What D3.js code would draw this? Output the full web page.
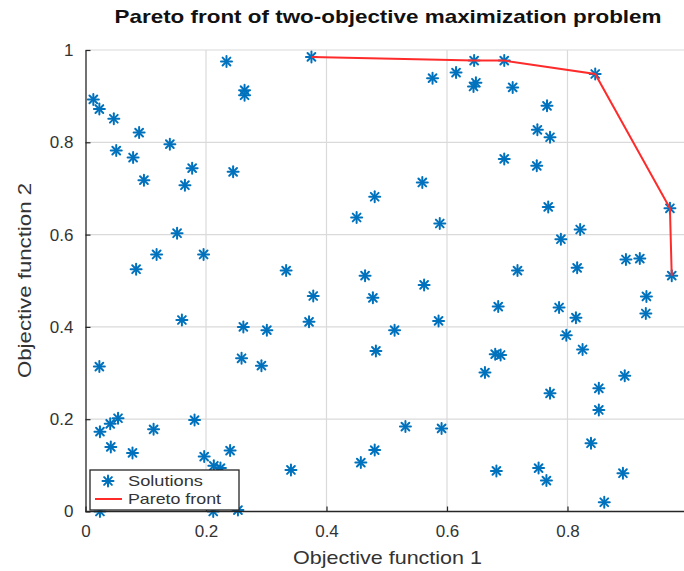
<!DOCTYPE html>
<html>
<head>
<meta charset="utf-8">
<script src="https://cdn.jsdelivr.net/npm/d3@7"></script>
<style>
  html, body { margin: 0; padding: 0; background: #fff; }
  svg { display: block; font-family: "Liberation Sans", Arial, Helvetica, sans-serif; }
</style>
</head>
<body>
<svg id="chart" width="684" height="571"></svg>
<script>
// Objective values of every candidate solution
const solutionsX = [
  0.234, 0.264, 0.264, 0.013, 0.023, 0.047, 0.089, 0.140, 0.051, 0.079,
  0.177, 0.245, 0.097, 0.165, 0.375, 0.645, 0.576, 0.615, 0.644, 0.648,
  0.559, 0.480, 0.695, 0.846, 0.970, 0.709, 0.766, 0.750, 0.771, 0.695,
  0.749, 0.768, 0.152, 0.118, 0.196, 0.084, 0.160, 0.262, 0.301, 0.259,
  0.292, 0.023, 0.333, 0.450, 0.588, 0.464, 0.562, 0.378, 0.477, 0.371,
  0.586, 0.513, 0.482, 0.821, 0.789, 0.897, 0.920, 0.973, 0.717, 0.816,
  0.931, 0.930, 0.685, 0.786, 0.814, 0.798, 0.825, 0.680, 0.689, 0.663,
  0.771, 0.895, 0.852, 0.852, 0.839, 0.682, 0.752, 0.765, 0.892, 0.861,
  0.054, 0.041, 0.024, 0.113, 0.181, 0.042, 0.078, 0.197, 0.240, 0.213,
  0.224, 0.024, 0.212, 0.253, 0.341, 0.457, 0.480, 0.531, 0.591
];
const solutionsY = [
  0.975, 0.913, 0.902, 0.893, 0.872, 0.851, 0.821, 0.796, 0.782, 0.767,
  0.744, 0.736, 0.718, 0.707, 0.985, 0.977, 0.939, 0.951, 0.921, 0.929,
  0.713, 0.682, 0.977, 0.948, 0.657, 0.919, 0.879, 0.827, 0.811, 0.764,
  0.749, 0.660, 0.603, 0.557, 0.557, 0.525, 0.415, 0.400, 0.393, 0.332,
  0.316, 0.314, 0.522, 0.637, 0.624, 0.511, 0.491, 0.467, 0.463, 0.411,
  0.413, 0.393, 0.348, 0.611, 0.590, 0.546, 0.548, 0.511, 0.522, 0.528,
  0.466, 0.429, 0.444, 0.442, 0.420, 0.382, 0.351, 0.341, 0.339, 0.301,
  0.256, 0.294, 0.267, 0.220, 0.148, 0.088, 0.094, 0.067, 0.083, 0.020,
  0.202, 0.190, 0.173, 0.178, 0.198, 0.140, 0.127, 0.119, 0.132, 0.099,
  0.094, 0.000, 0.000, 0.003, 0.090, 0.106, 0.133, 0.184, 0.180
];

// Non-dominated solutions, ordered along objective 1
const paretoX = [0.375, 0.645, 0.695, 0.846, 0.970, 0.973];
const paretoY = [0.985, 0.977, 0.977, 0.948, 0.657, 0.511];

const xTicks = [0, 0.2, 0.4, 0.6, 0.8];
const yTicks = [0, 0.2, 0.4, 0.6, 0.8, 1];
const xTickLabels = ["0", "0.2", "0.4", "0.6", "0.8"];
const yTickLabels = ["0", "0.2", "0.4", "0.6", "0.8", "1"];

const titleText = "Pareto front of two-objective maximization problem";
const xLabelText = "Objective function 1";
const yLabelText = "Objective function 2";
const legendLabels = ["Solutions", "Pareto front"];

const svg = d3.select("#chart");
const plotLeft = 85.5, plotRight = 688, plotTop = 50, plotBottom = 511.5;

const x = d3.scaleLinear().domain([0, 1]).range([plotLeft, plotRight]);
const y = d3.scaleLinear().domain([0, 1]).range([plotBottom, plotTop]);

const blue = "#0072BD";
const red = "#ff2b2b";
const axisColor = "#262626";

const plot = svg.append("g");

// grid
plot.append("g").selectAll("line").data(xTicks.filter(d => d > 0)).join("line")
  .attr("x1", d => x(d)).attr("x2", d => x(d)).attr("y1", plotTop).attr("y2", plotBottom)
  .attr("stroke", "#dadada").attr("stroke-width", 1.2);
plot.append("g").selectAll("line").data(yTicks.filter(d => d > 0)).join("line")
  .attr("y1", d => y(d)).attr("y2", d => y(d)).attr("x1", plotLeft).attr("x2", 684)
  .attr("stroke", "#dadada").attr("stroke-width", 1.2);

// axes (ticks point inward)
const xAxis = d3.axisBottom(x).tickValues(xTicks)
  .tickFormat((d, i) => xTickLabels[i]).tickSizeInner(-5).tickSizeOuter(0).tickPadding(13);
const yAxis = d3.axisLeft(y).tickValues(yTicks)
  .tickFormat((d, i) => yTickLabels[i]).tickSizeInner(-5).tickSizeOuter(0).tickPadding(12);

const gx = svg.append("g").attr("transform", `translate(0,${plotBottom})`).call(xAxis);
const gy = svg.append("g").attr("transform", `translate(${plotLeft},0)`).call(yAxis);
[gx, gy].forEach(g => {
  g.select(".domain").attr("stroke", axisColor).attr("stroke-width", 1.3);
  g.selectAll(".tick line").attr("stroke", axisColor).attr("stroke-width", 1.2);
  g.selectAll(".tick text").attr("fill", "#333").attr("font-size", 17)
    .attr("font-family", "Liberation Sans, Arial, sans-serif");
});
gx.select(".domain").attr("d", `M${plotLeft},0H684`);

// asterisk marker
function asterisk(sel, r) {
  const a = r * Math.SQRT1_2;
  sel.append("line").attr("x1", -r).attr("x2", r).attr("y1", 0).attr("y2", 0);
  sel.append("line").attr("x1", 0).attr("x2", 0).attr("y1", -r).attr("y2", r);
  sel.append("line").attr("x1", -a).attr("x2", a).attr("y1", -a).attr("y2", a);
  sel.append("line").attr("x1", -a).attr("x2", a).attr("y1", a).attr("y2", -a);
}

const pts = d3.range(solutionsX.length).map(i => ({ x: solutionsX[i], y: solutionsY[i] }));
plot.append("g").attr("stroke", blue).attr("stroke-width", 2).attr("stroke-linecap", "round")
  .selectAll("g").data(pts).join("g")
  .attr("transform", d => `translate(${x(d.x)},${y(d.y)})`)
  .each(function () { asterisk(d3.select(this), 5.5); });

// Pareto front line
const front = d3.range(paretoX.length).map(i => [paretoX[i], paretoY[i]]);
plot.append("path").datum(front)
  .attr("d", d3.line().x(d => x(d[0])).y(d => y(d[1])))
  .attr("fill", "none").attr("stroke", red).attr("stroke-width", 2);

// title and axis labels
svg.append("text").attr("x", 388).attr("y", 23).attr("text-anchor", "middle")
  .attr("font-weight", "bold").attr("font-size", 19).attr("fill", "#111")
  .attr("textLength", 547).attr("lengthAdjust", "spacingAndGlyphs").text(titleText);
svg.append("text").attr("x", 387.5).attr("y", 564).attr("text-anchor", "middle")
  .attr("font-size", 19).attr("fill", "#333")
  .attr("textLength", 189).attr("lengthAdjust", "spacingAndGlyphs").text(xLabelText);
svg.append("text").attr("transform", "translate(31,280.5) rotate(-90)").attr("text-anchor", "middle")
  .attr("font-size", 19).attr("fill", "#333")
  .attr("textLength", 195).attr("lengthAdjust", "spacingAndGlyphs").text(yLabelText);

// legend
const lg = svg.append("g").attr("transform", "translate(90,470)");
lg.append("rect").attr("width", 149).attr("height", 40)
  .attr("fill", "#fff").attr("stroke", axisColor).attr("stroke-width", 1.3);
const m = lg.append("g").attr("transform", "translate(18,11)")
  .attr("stroke", blue).attr("stroke-width", 2).attr("stroke-linecap", "round");
asterisk(m, 5.5);
lg.append("line").attr("x1", 5).attr("x2", 32).attr("y1", 29).attr("y2", 29)
  .attr("stroke", red).attr("stroke-width", 2);
const legendWidths = [75, 93];
lg.selectAll("text.lab").data(legendLabels).join("text").attr("class", "lab")
  .attr("x", 38).attr("y", (d, i) => 16 + i * 18)
  .attr("font-size", 15).attr("fill", "#333")
  .attr("textLength", (d, i) => legendWidths[i]).attr("lengthAdjust", "spacingAndGlyphs")
  .text(d => d);
</script>
</body>
</html>
